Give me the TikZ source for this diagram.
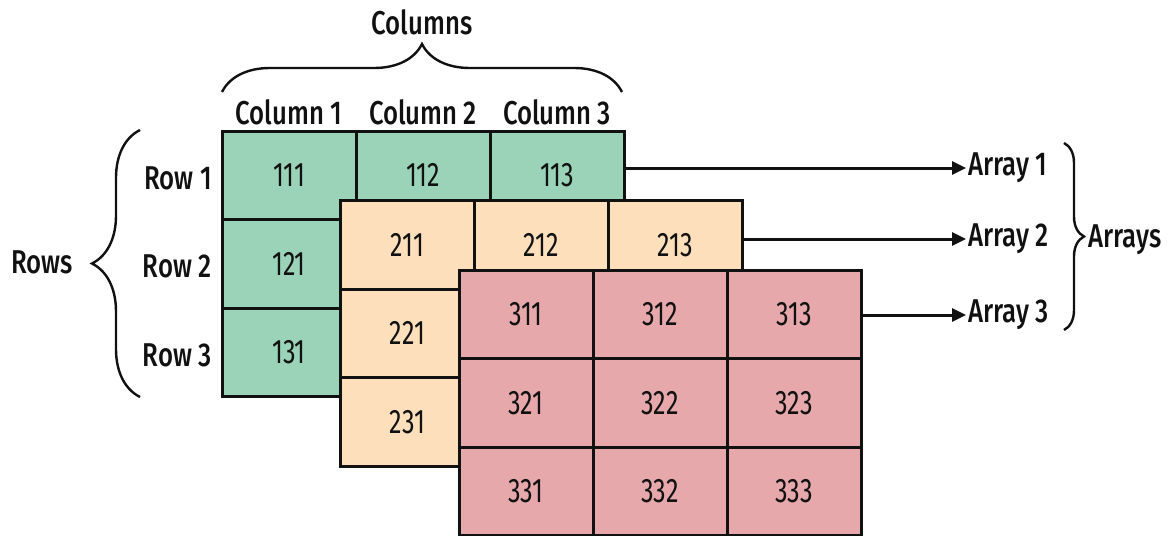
\documentclass[tikz,border=0pt]{standalone}
\usepackage{fontspec}
\setmainfont{Fira Sans Medium}[FakeStretch=0.78]
\newfontfamily\cellfont{Fira Sans}[FakeStretch=0.74]
\usepackage{xcolor}
\definecolor{ink}{HTML}{111111}
\definecolor{greencell}{HTML}{9BD3B8}
\definecolor{peachcell}{HTML}{FDDFBC}
\definecolor{pinkcell}{HTML}{E6A8AB}
\usepackage{tikz}
\usetikzlibrary{arrows.meta,decorations.pathreplacing,calc}

\begin{document}
\begin{tikzpicture}[
  x=0.5pt, y=-0.5pt,
  font=\fontsize{16.5}{18}\selectfont,
  cell/.style={draw=ink, line width=1.5pt, minimum width=67pt,
               minimum height=44.25pt, inner sep=0pt, text=ink,
               font=\cellfont\fontsize{17}{18}\selectfont},
  lbl/.style={inner sep=1pt, text=ink},
  link/.style={-{Triangle[length=7pt,width=6.5pt]}, line width=1.5pt, ink},
  curly/.style={decorate, decoration={brace, amplitude=#1}, line width=1.2pt, ink}
]
  \useasboundingbox (0,0) rectangle (1174,536);

  % the three stacked arrays, back to front (hidden cells keep no text)
  \foreach \a/\fillc in {1/greencell,2/peachcell,3/pinkcell}
    \foreach \r in {1,2,3}
      \foreach \c in {1,2,3} {
        \pgfmathtruncatemacro{\seen}{(\a==3)||(\r==1)||(\c==1)}
        \node[cell, fill=\fillc] (c\a\r\c)
          at ({222+(\a-1)*118.5+(\c-0.5)*134}, {131+(\a-1)*69.5+(\r-0.5)*88.5})
          {\ifnum\seen=1 \a\r\c\fi};
      }

  % column and row labels
  \foreach \c in {1,2,3}
    \node[lbl] (col\c) at ({222+(\c-0.5)*134}, 112) {Column \c};
  \foreach \r in {1,2,3}
    \node[lbl, anchor=east] (row\r) at (214, {131+(\r-0.5)*88.5+3}) {Row \r};

  \node[lbl] (columns) at (422,22) {Columns};
  \draw[curly=24pt] (222,92) -- (622,92);

  \node[lbl] (rows) at (42,262) {Rows};
  \draw[curly=24pt] (140,397) -- (140,130);

  % array labels on the right
  \node[lbl, anchor=west] (arr1) at (966,168) {Array 1};
  \node[lbl, anchor=west] (arr2) at (966,239) {Array 2};
  \node[lbl, anchor=west] (arr3) at (966,315) {Array 3};

  \draw[link] (c113.east |- arr1.west) -- (arr1.west);
  \draw[link] (c213.east |- arr2.west) -- (arr2.west);
  \draw[link] (c313.east |- arr3.west) -- (arr3.west);

  \draw[curly=10pt] (1064,143) -- (1064,330);
  \node[lbl, anchor=west] (arrays) at (1086,240) {Arrays};
\end{tikzpicture}
\end{document}
